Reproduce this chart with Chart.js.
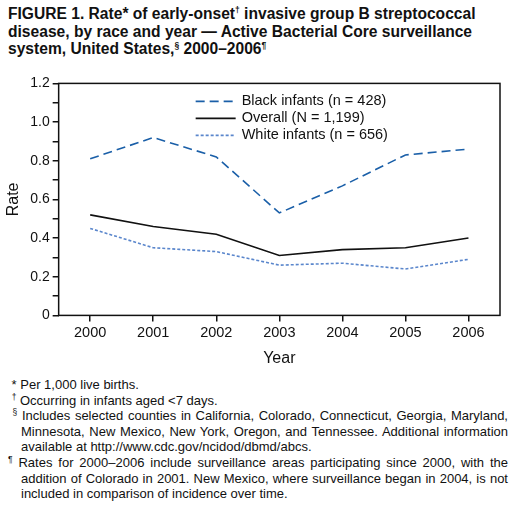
<!DOCTYPE html>
<html><head><meta charset="utf-8">
<script src="https://cdn.jsdelivr.net/npm/chart.js@4"></script>
<style>
body{margin:0;background:#fff;font-family:"Liberation Sans",Arial,sans-serif;color:#111;}
#title{position:absolute;left:8px;top:5px;width:505px;font-weight:bold;font-size:15.6px;line-height:17.5px;}
#wrap{position:absolute;left:0;top:72px;width:516px;height:300px;}
#notes{position:absolute;left:8px;top:377px;width:500px;font-size:13px;line-height:15.6px;text-align:justify;}
#notes div{padding-left:13px;text-indent:-13px;}
sup{font-size:8.5px;line-height:0;}
</style></head><body>
<div id="title">FIGURE 1. Rate* of early-onset<sup>†</sup> invasive group B streptococcal disease, by race and year — Active Bacterial Core surveillance system, United States,<sup>§</sup> 2000–2006<sup>¶</sup></div>
<div id="wrap"><canvas id="c"></canvas></div>
<div id="notes">
<div>&nbsp;* Per 1,000 live births.</div>
<div>&nbsp;<sup>†</sup> Occurring in infants aged &lt;7 days.</div>
<div>&nbsp;<sup>§</sup> Includes selected counties in California, Colorado, Connecticut, Georgia, Maryland, Minnesota, New Mexico, New York, Oregon, and Tennessee. Additional information available at http://www.cdc.gov/ncidod/dbmd/abcs.</div>
<div><sup>¶</sup> Rates for 2000–2006 include surveillance areas participating since 2000, with the addition of Colorado in 2001. New Mexico, where surveillance began in 2004, is not included in comparison of incidence over time.</div>
</div>
<script>
const years = ["2000","2001","2002","2003","2004","2005","2006"];
const black = [0.81, 0.92, 0.82, 0.53, 0.67, 0.83, 0.86];
const overall = [0.52, 0.46, 0.42, 0.31, 0.34, 0.35, 0.40];
const white = [0.45, 0.35, 0.33, 0.26, 0.27, 0.24, 0.29];
const labels = ["Black infants (n = 428)", "Overall (N = 1,199)", "White infants (n = 656)"];

const styles = [
  {color:"#1a5fa8", dash:[9,5]},
  {color:"#111", dash:[]},
  {color:"#5a86cc", dash:[3,2]}
];

// box + legend inside plot
const extras = {
  id: "extras",
  afterDraw(chart) {
    const {ctx, chartArea: a} = chart;
    ctx.save();
    ctx.strokeStyle = "#111"; ctx.lineWidth = 1.5;
    ctx.strokeRect(a.left, a.top, a.right - a.left, a.bottom - a.top);
    ctx.font = "14.5px 'Liberation Sans', Arial";
    ctx.textBaseline = "middle";
    labels.forEach((l, i) => {
      const y = a.top + 18 + i * 17;
      ctx.strokeStyle = styles[i].color; ctx.setLineDash(styles[i].dash); ctx.lineWidth = 1.6;
      ctx.beginPath(); ctx.moveTo(a.left + 137, y); ctx.lineTo(a.left + 177, y); ctx.stroke();
      ctx.fillStyle = "#111"; ctx.fillText(l, a.left + 183, y);
    });
    ctx.restore();
  }
};

const ds = [black, overall, white].map((d, i) => ({
  label: labels[i], data: d, borderColor: styles[i].color, borderDash: styles[i].dash,
  borderWidth: 1.6, pointRadius: 0, tension: 0, fill: false
}));

new Chart(document.getElementById("c"), {
  type: "line",
  data: {labels: years, datasets: ds},
  plugins: [extras],
  options: {
    responsive: true, maintainAspectRatio: false, animation: false,
    layout: {padding: {top: 10, right: 16}},
    plugins: {legend: {display: false}, tooltip: {enabled: false}},
    scales: {
      x: {
        offset: true,
        grid: {drawOnChartArea: false, color: "#111", tickLength: 6, lineWidth: 1.5},
        border: {display: false},
        ticks: {color: "#111", font: {family: "Liberation Sans", size: 14.5}, maxRotation: 0},
        title: {display: true, text: "Year", color: "#111", font: {family: "Liberation Sans", size: 16}}
      },
      y: {
        min: 0, max: 1.2,
        grid: {drawOnChartArea: false, color: "#111", tickLength: 6, lineWidth: 1.5},
        border: {display: false},
        ticks: {
          stepSize: 0.1, autoSkip: false, color: "#111",
          font: {family: "Liberation Sans", size: 14},
          callback: v => {
            const r = Math.round(v * 10);
            if (r % 2) return "";
            return r === 0 ? "0" : (r / 10).toFixed(1);
          }
        },
        title: {display: true, text: "Rate", color: "#111", font: {family: "Liberation Sans", size: 16}}
      }
    }
  }
});
</script>
</body></html>
